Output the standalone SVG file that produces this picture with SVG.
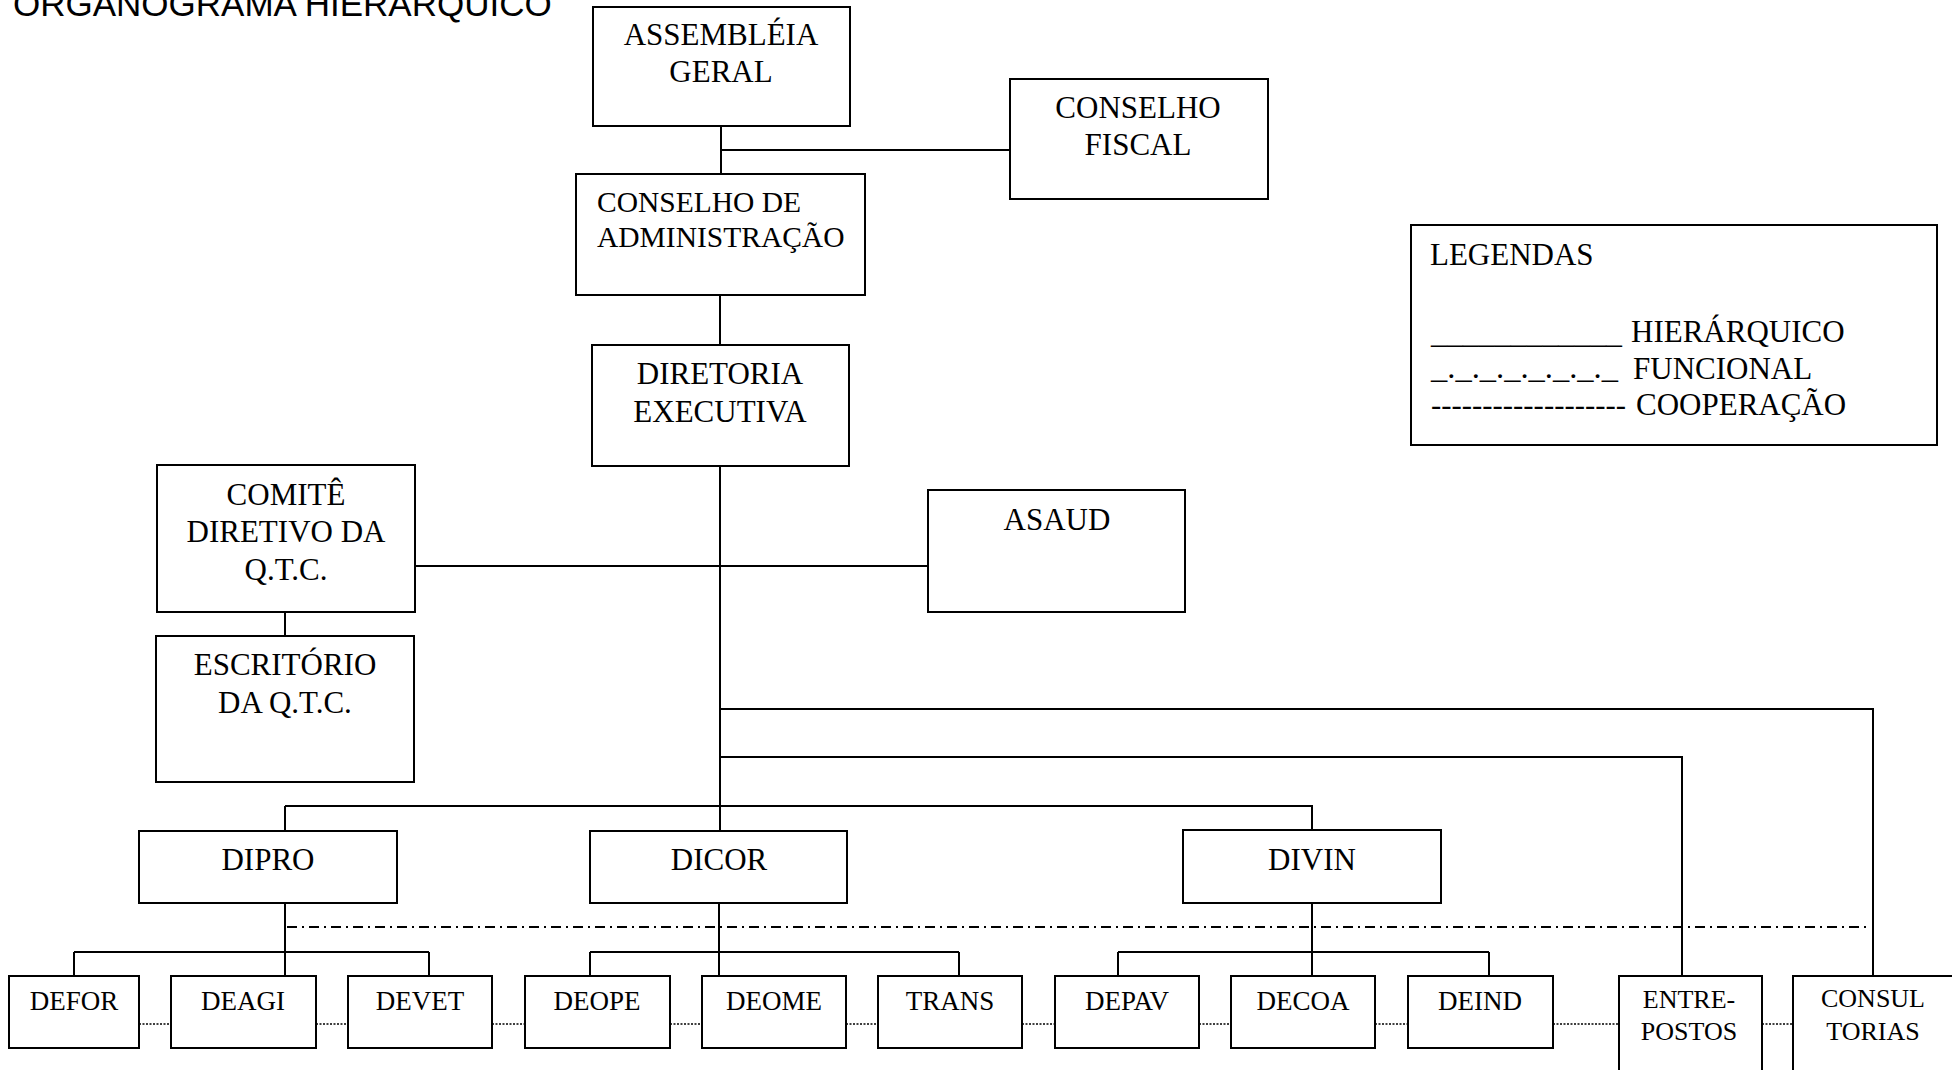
<svg xmlns="http://www.w3.org/2000/svg" width="1952" height="1070" viewBox="0 0 1952 1070">
  <style>
    .box { fill: #fff; stroke: #000; stroke-width: 2; }
    .t { font-family: "Liberation Serif", "Times New Roman", serif; font-size: 31px; fill: #000; text-anchor: middle; }
    .ts { font-family: "Liberation Serif", "Times New Roman", serif; font-size: 27px; fill: #000; text-anchor: middle; }
    .tx { font-family: "Liberation Serif", "Times New Roman", serif; font-size: 26px; fill: #000; text-anchor: middle; }
    .tl { font-family: "Liberation Serif", "Times New Roman", serif; font-size: 31px; fill: #000; }
    .title { font-family: "Liberation Sans", Arial, sans-serif; font-size: 35px; fill: #000; }
    .h { fill: none; stroke: #000; stroke-width: 2; }
    .func { fill: none; stroke: #000; stroke-width: 2; stroke-dasharray: 10 5 2 5; }
    .coop { fill: none; stroke: #000; stroke-width: 1.5; stroke-dasharray: 2 1.5; }
  </style>
  <rect width="1952" height="1070" fill="#fff"/>

  <!-- page heading, partly above the top edge of the sheet -->
  <text class="title" x="13" y="16">ORGANOGRAMA HIERÁRQUICO</text>

  <!-- connectors -->
  <g id="connectors">
    <path class="h" d="M721 126V174 M721 150H1010"/>
    <path class="h" d="M720 295V345"/>
    <path class="h" d="M720 466V831"/>
    <path class="h" d="M415 566H928"/>
    <path class="h" d="M285 612V636"/>
    <path class="h" d="M720 709H1873V976"/>
    <path class="h" d="M720 757H1682V976"/>
    <path class="h" d="M285 806H1312V830 M285 806V831"/>
    <!-- DIPRO branch -->
    <path class="h" d="M285 903V976 M74 952H429 M74 952V976 M429 952V976"/>
    <!-- DICOR branch -->
    <path class="h" d="M719 903V976 M590 952H959 M590 952V976 M959 952V976"/>
    <!-- DIVIN branch -->
    <path class="h" d="M1312 903V976 M1118 952H1489 M1118 952V976 M1489 952V976"/>
    <!-- functional link -->
    <path class="func" d="M287 927H1869"/>
    <!-- cooperation links -->
    <path class="coop" d="M139 1024H171 M316 1024H348 M492 1024H525 M670 1024H702 M846 1024H878 M1022 1024H1055 M1199 1024H1231 M1375 1024H1408 M1553 1024H1619 M1762 1024H1793"/>
  </g>

  <g id="assembleia">
    <rect class="box" x="593" y="7" width="257" height="119"/>
    <text class="t" x="721" y="45">ASSEMBLÉIA</text>
    <text class="t" x="721" y="82">GERAL</text>
  </g>
  <g id="conselho-fiscal">
    <rect class="box" x="1010" y="79" width="258" height="120"/>
    <text class="t" x="1138" y="118">CONSELHO</text>
    <text class="t" x="1138" y="155">FISCAL</text>
  </g>
  <g id="conselho-adm">
    <rect class="box" x="576" y="174" width="289" height="121"/>
    <text class="tl" x="597" y="212" style="font-size:29.5px">CONSELHO DE</text>
    <text class="tl" x="597" y="247" style="font-size:29.5px">ADMINISTRAÇÃO</text>
  </g>
  <g id="diretoria">
    <rect class="box" x="592" y="345" width="257" height="121"/>
    <text class="t" x="720" y="384">DIRETORIA</text>
    <text class="t" x="720" y="422">EXECUTIVA</text>
  </g>
  <g id="comite">
    <rect class="box" x="157" y="465" width="258" height="147"/>
    <text class="t" x="286" y="505">COMITÊ</text>
    <text class="t" x="286" y="542">DIRETIVO DA</text>
    <text class="t" x="286" y="580">Q.T.C.</text>
  </g>
  <g id="escritorio">
    <rect class="box" x="156" y="636" width="258" height="146"/>
    <text class="t" x="285" y="675">ESCRITÓRIO</text>
    <text class="t" x="285" y="713">DA Q.T.C.</text>
  </g>
  <g id="asaud">
    <rect class="box" x="928" y="490" width="257" height="122"/>
    <text class="t" x="1057" y="530">ASAUD</text>
  </g>

  <g id="dipro">
    <rect class="box" x="139" y="831" width="258" height="72"/>
    <text class="t" x="268" y="870">DIPRO</text>
  </g>
  <g id="dicor">
    <rect class="box" x="590" y="831" width="257" height="72"/>
    <text class="t" x="719" y="870">DICOR</text>
  </g>
  <g id="divin">
    <rect class="box" x="1183" y="830" width="258" height="73"/>
    <text class="t" x="1312" y="870">DIVIN</text>
  </g>

  <g id="defor"><rect class="box" x="9" y="976" width="130" height="72"/><text class="ts" x="74" y="1010">DEFOR</text></g>
  <g id="deagi"><rect class="box" x="171" y="976" width="145" height="72"/><text class="ts" x="243" y="1010">DEAGI</text></g>
  <g id="devet"><rect class="box" x="348" y="976" width="144" height="72"/><text class="ts" x="420" y="1010">DEVET</text></g>
  <g id="deope"><rect class="box" x="525" y="976" width="145" height="72"/><text class="ts" x="597" y="1010">DEOPE</text></g>
  <g id="deome"><rect class="box" x="702" y="976" width="144" height="72"/><text class="ts" x="774" y="1010">DEOME</text></g>
  <g id="trans"><rect class="box" x="878" y="976" width="144" height="72"/><text class="ts" x="950" y="1010">TRANS</text></g>
  <g id="depav"><rect class="box" x="1055" y="976" width="144" height="72"/><text class="ts" x="1127" y="1010">DEPAV</text></g>
  <g id="decoa"><rect class="box" x="1231" y="976" width="144" height="72"/><text class="ts" x="1303" y="1010">DECOA</text></g>
  <g id="deind"><rect class="box" x="1408" y="976" width="145" height="72"/><text class="ts" x="1480" y="1010">DEIND</text></g>
  <g id="entrepostos">
    <rect class="box" x="1619" y="976" width="143" height="110"/>
    <text class="tx" x="1689" y="1008">ENTRE-</text>
    <text class="tx" x="1689" y="1040">POSTOS</text>
  </g>
  <g id="consultorias">
    <rect class="box" x="1793" y="976" width="162" height="110"/>
    <text class="tx" x="1873" y="1007">CONSUL</text>
    <text class="tx" x="1873" y="1040">TORIAS</text>
  </g>

  <g id="legendas">
    <rect class="box" x="1411" y="225" width="526" height="220"/>
    <text class="tl" x="1430" y="265">LEGENDAS</text>
    <text class="tl" x="1431" y="343" textLength="191" lengthAdjust="spacingAndGlyphs">____________</text>
    <text class="tl" x="1631" y="342">HIERÁRQUICO</text>
    <text class="tl" x="1431" y="378" textLength="187" lengthAdjust="spacingAndGlyphs">_._._._._._._._</text>
    <text class="tl" x="1633" y="379">FUNCIONAL</text>
    <text class="tl" x="1431" y="415" textLength="195" lengthAdjust="spacingAndGlyphs">-------------------</text>
    <text class="tl" x="1636" y="415">COOPERAÇÃO</text>
  </g>
</svg>
